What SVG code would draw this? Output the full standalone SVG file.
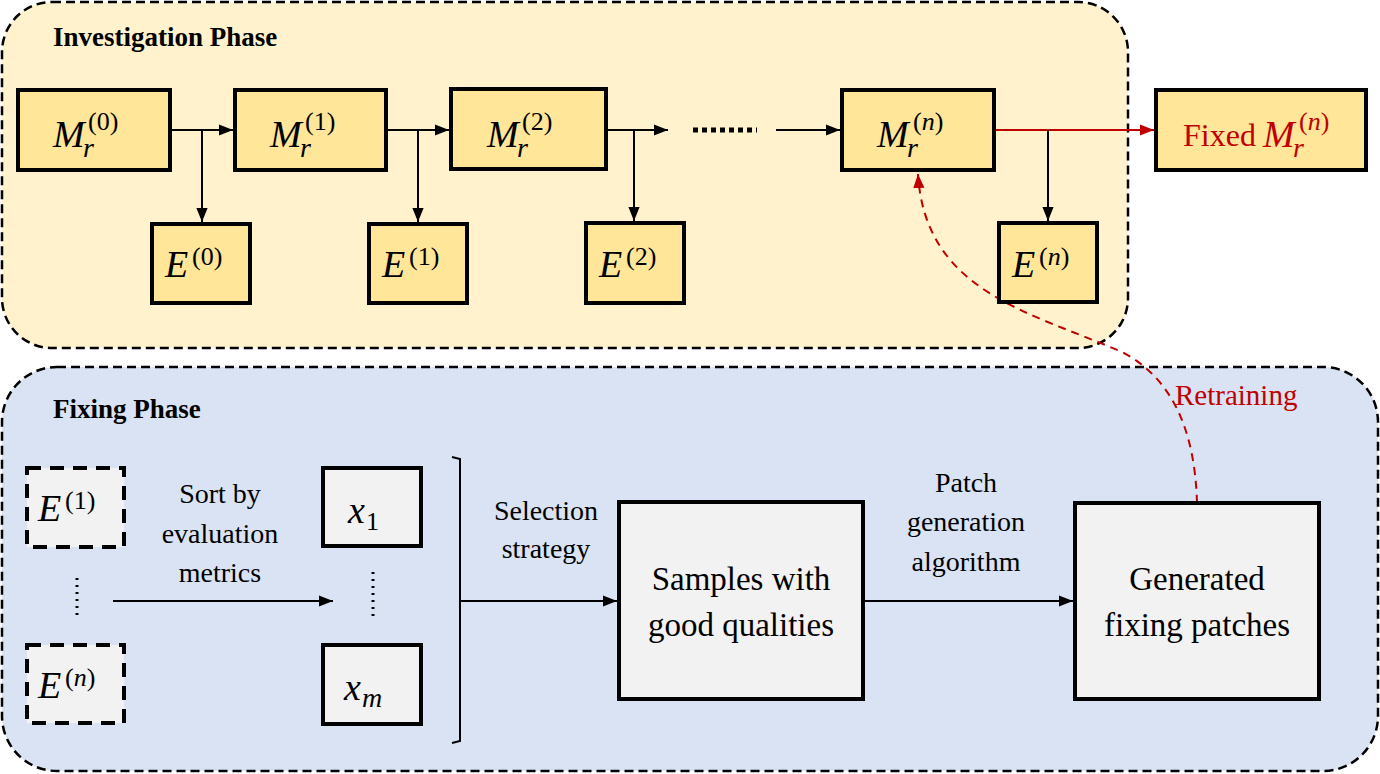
<svg xmlns="http://www.w3.org/2000/svg" width="1380" height="774" viewBox="0 0 1380 774">
<style>
.panel{stroke:#000;stroke-width:2.5;stroke-dasharray:9 5}
.ybox{fill:#FFE699;stroke:#000;stroke-width:4}
.gbox{fill:#F2F2F2;stroke:#000;stroke-width:4}
.dbox{fill:#F2F2F2;stroke:#000;stroke-width:4;stroke-dasharray:14 9}
.line{fill:none;stroke:#000;stroke-width:2}
.title{font-weight:bold;font-size:27px;fill:#000}
.lbl{font-size:28px;fill:#000;text-anchor:middle}
.big{font-size:33px;fill:#000;text-anchor:middle}
.mi{font-style:italic;font-size:38px;fill:#000}
.ms{font-style:italic;font-size:28px;fill:#000}
.mp{font-size:26px;fill:#000}
.red{fill:#C00000}
</style>
<defs>
<marker id="ahb" viewBox="0 0 10 10" refX="10" refY="5" markerWidth="14" markerHeight="14" orient="auto" markerUnits="userSpaceOnUse">
<path d="M0,1 L10,5 L0,9 z" fill="#000"/>
</marker>
<marker id="ahr" viewBox="0 0 10 10" refX="10" refY="5" markerWidth="14" markerHeight="14" orient="auto" markerUnits="userSpaceOnUse">
<path d="M0,1 L10,5 L0,9 z" fill="#C00000"/>
</marker>
</defs>
<g font-family="Liberation Serif, DejaVu Serif, serif">

<g id="investigation-phase">
<rect class="panel" x="2" y="2" width="1126" height="346" rx="50" fill="#FFF2CC"/>
<text class="title" x="53" y="46">Investigation Phase</text>
</g>
<g id="fixing-phase">
<rect class="panel" x="2" y="367" width="1376" height="404" rx="55" fill="#DAE3F3"/>
<text class="title" x="53" y="418">Fixing Phase</text>
</g>

<g id="connectors">
<line class="line" x1="170" y1="130" x2="233" y2="130" marker-end="url(#ahb)"/>
<line class="line" x1="202" y1="130" x2="202" y2="222" marker-end="url(#ahb)"/>
<line class="line" x1="386" y1="130" x2="449" y2="130" marker-end="url(#ahb)"/>
<line class="line" x1="418" y1="130" x2="418" y2="222" marker-end="url(#ahb)"/>
<line class="line" x1="606" y1="130" x2="668" y2="130" marker-end="url(#ahb)"/>
<line class="line" x1="634" y1="130" x2="634" y2="221" marker-end="url(#ahb)"/>
<line x1="693" y1="130" x2="757" y2="130" stroke="#000" stroke-width="5" stroke-dasharray="5 4"/>
<line class="line" x1="776" y1="130" x2="840" y2="130" marker-end="url(#ahb)"/>
<line x1="994" y1="130" x2="1154" y2="130" stroke="#C00000" stroke-width="2" marker-end="url(#ahr)"/>
<line class="line" x1="1048" y1="130" x2="1048" y2="221" marker-end="url(#ahb)"/>
<path d="M1197,503 C1195,430 1172,378 1122,352 C1030,312 925,292 918,174" fill="none" stroke="#C00000" stroke-width="2" stroke-dasharray="8 6" marker-end="url(#ahr)"/>
<line x1="77" y1="578" x2="77" y2="620" stroke="#000" stroke-width="3" stroke-dasharray="2 5"/>
<line x1="373" y1="572" x2="373" y2="620" stroke="#000" stroke-width="3" stroke-dasharray="2 5"/>
<line class="line" x1="113" y1="601" x2="333" y2="601" marker-end="url(#ahb)"/>
<path d="M452,457 L460,459 L460,741 L452,743" fill="none" stroke="#000" stroke-width="2"/>
<line class="line" x1="460" y1="601" x2="617" y2="601" marker-end="url(#ahb)"/>
<line class="line" x1="863" y1="601" x2="1073" y2="601" marker-end="url(#ahb)"/>
</g>

<g id="M0">
<rect class="ybox" x="18" y="90" width="152" height="80"/>
<text class="mi" x="53" y="147">M</text><text class="ms" x="83" y="157">r</text><text class="mp" x="88" y="130">(0)</text>
</g>
<g id="M1">
<rect class="ybox" x="235" y="90" width="151" height="80"/>
<text class="mi" x="270" y="147">M</text><text class="ms" x="300" y="157">r</text><text class="mp" x="305" y="130">(1)</text>
</g>
<g id="M2">
<rect class="ybox" x="451" y="89" width="155" height="80"/>
<text class="mi" x="487" y="147">M</text><text class="ms" x="517" y="157">r</text><text class="mp" x="522" y="130">(2)</text>
</g>
<g id="Mn">
<rect class="ybox" x="842" y="90" width="152" height="80"/>
<text class="mi" x="877" y="147">M</text><text class="ms" x="907" y="157">r</text><text class="mp" x="913" y="130">(<tspan font-style="italic">n</tspan>)</text>
</g>
<g id="FixedMn">
<rect class="ybox" x="1156" y="90" width="210" height="80" stroke="#C00000"/>
<text x="1183" y="146" font-size="32" fill="#C00000">Fixed</text>
<text class="mi red" x="1263" y="147">M</text><text class="ms red" x="1293" y="157">r</text><text class="mp red" x="1299" y="130">(<tspan font-style="italic">n</tspan>)</text>
</g>
<g id="E0">
<rect class="ybox" x="152" y="224" width="98" height="79"/>
<text class="mi" x="165" y="277">E</text><text class="mp" x="192" y="265">(0)</text>
</g>
<g id="E1">
<rect class="ybox" x="369" y="224" width="98" height="79"/>
<text class="mi" x="382" y="277">E</text><text class="mp" x="409" y="265">(1)</text>
</g>
<g id="E2">
<rect class="ybox" x="586" y="223" width="98" height="80"/>
<text class="mi" x="599" y="277">E</text><text class="mp" x="626" y="265">(2)</text>
</g>
<g id="En">
<rect class="ybox" x="999" y="223" width="98" height="79"/>
<text class="mi" x="1012" y="277">E</text><text class="mp" x="1039" y="265">(<tspan font-style="italic">n</tspan>)</text>
</g>

<g id="E1-fix">
<rect class="dbox" x="27" y="468" width="97" height="79"/>
<text class="mi" x="38" y="521">E</text><text class="mp" x="65" y="509">(1)</text>
</g>
<g id="En-fix">
<rect class="dbox" x="27" y="645" width="97" height="78"/>
<text class="mi" x="38" y="698">E</text><text class="mp" x="65" y="686">(<tspan font-style="italic">n</tspan>)</text>
</g>
<g id="sort-label">
<text class="lbl" x="220" y="503">Sort by</text>
<text class="lbl" x="220" y="543">evaluation</text>
<text class="lbl" x="220" y="582">metrics</text>
</g>
<g id="x1">
<rect class="gbox" x="323" y="468" width="98" height="78"/>
<text class="mi" x="348" y="523" font-size="36">x</text><text class="mp" x="366" y="530">1</text>
</g>
<g id="xm">
<rect class="gbox" x="323" y="645" width="98" height="79"/>
<text class="mi" x="344" y="700" font-size="36">x</text><text class="ms" x="362" y="707">m</text>
</g>
<g id="selection-label">
<text class="lbl" x="546" y="520">Selection</text>
<text class="lbl" x="546" y="558">strategy</text>
</g>
<g id="samples">
<rect class="gbox" x="619" y="502" width="244" height="197"/>
<text class="big" x="741" y="590">Samples with</text>
<text class="big" x="741" y="636">good qualities</text>
</g>
<g id="patch-label">
<text class="lbl" x="966" y="492">Patch</text>
<text class="lbl" x="966" y="531">generation</text>
<text class="lbl" x="966" y="571">algorithm</text>
</g>
<g id="generated">
<rect class="gbox" x="1075" y="503" width="244" height="196"/>
<text class="big" x="1197" y="590">Generated</text>
<text class="big" x="1197" y="636">fixing patches</text>
</g>
<g id="retraining-label">
<text x="1175" y="405" font-size="29" fill="#C00000">Retraining</text>
</g>
</g>
</svg>
